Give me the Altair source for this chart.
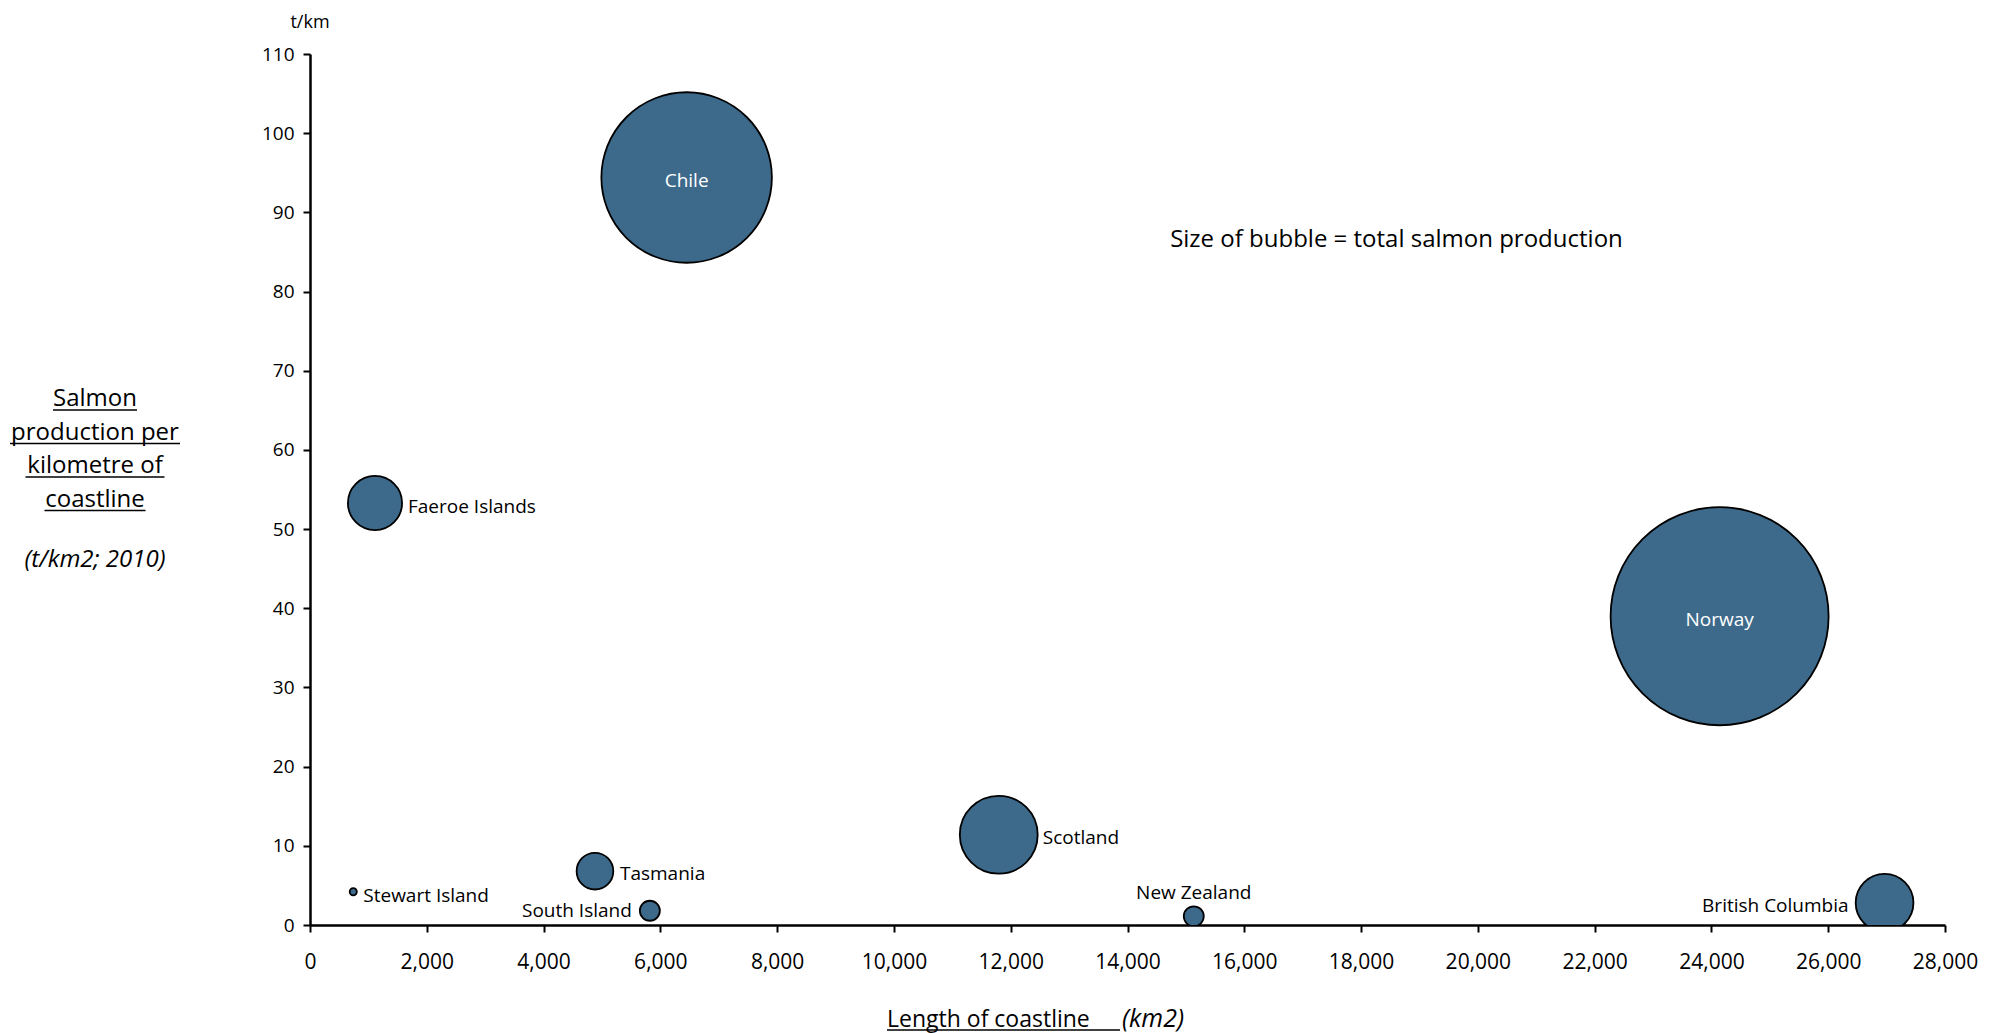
import altair as alt
import pandas as pd

# ---------------- data ----------------
countries = ["Chile", "Norway", "Faeroe Islands", "Stewart Island", "Tasmania",
             "South Island", "Scotland", "New Zealand", "British Columbia"]
coastline_km = [6450, 24140, 1113, 741, 4880, 5820, 11795, 15135, 26965]
production_per_km = [94.4, 39.0, 53.3, 4.2, 6.8, 1.8, 11.4, 1.1, 2.8]
total_production_kt = [575, 940, 58, 1.0, 26.6, 7.9, 120, 7.9, 66]

x_ticks = list(range(0, 28001, 2000))
y_ticks = list(range(0, 111, 10))

annotation_text = ["Size of bubble = total salmon production"]
annotation_x = [18606]
annotation_y = [85.6]

y_title_lines = ["Salmon", "production per", "kilometre of", "coastline"]
y_title_note = "(t/km2; 2010)"
x_title_main = "Length of coastline"
x_title_note = "(km2)"
unit_label = "t/km"

# ---------------- styles / layout ----------------
FONT = "Open Sans"
W, H = 1635, 871
FILL = "#3D6A8A"

label_style = {
    "Chile":            ("center", 0, 3, "white"),
    "Norway":           ("center", 0, 3.5, "white"),
    "Faeroe Islands":   ("left", 33, 4, "black"),
    "Stewart Island":   ("left", 10, 4, "black"),
    "Tasmania":         ("left", 25, 2.5, "black"),
    "South Island":     ("right", -18, 0.5, "black"),
    "Scotland":         ("left", 44, 3.5, "black"),
    "New Zealand":      ("center", 0, -23, "black"),
    "British Columbia": ("right", -36, 3, "black"),
}

df = pd.DataFrame({
    "country": countries,
    "coastline": coastline_km,
    "per_km": production_per_km,
    "production": total_production_kt,
})

xs = alt.Scale(domain=[0, 28000], nice=False, zero=True)
ys = alt.Scale(domain=[0, 110], nice=False, zero=True)

x_axis = alt.Axis(values=x_ticks, format=",.0f", title=None, grid=False,
                  labelFont=FONT, labelFontSize=21, labelColor="black",
                  labelPadding=19, tickSize=7, tickWidth=2, tickColor="black",
                  domainColor="black", domainWidth=2.5, labelFlush=False,
                  labelOverlap=False)
y_axis = alt.Axis(values=y_ticks, format=".0f", title=None, grid=False,
                  labelFont=FONT, labelFontSize=19, labelColor="black",
                  labelPadding=9, tickSize=7, tickWidth=2, tickColor="black",
                  domainColor="black", domainWidth=2.5, labelFlush=False,
                  labelOverlap=False)


def X(field):
    return alt.X(f"{field}:Q", scale=xs, axis=x_axis)


def Y(field):
    return alt.Y(f"{field}:Q", scale=ys, axis=y_axis)


base = alt.Chart(df)

bubbles = base.mark_circle(
    color=FILL, opacity=1, stroke="black", strokeWidth=1.8, clip=True
).encode(
    x=X("coastline"),
    y=Y("per_km"),
    size=alt.Size("production:Q",
                  scale=alt.Scale(domain=[0, 940], range=[0, 47524], zero=True),
                  legend=None),
)

layers = [bubbles]
for name, (align, dx, dy, color) in label_style.items():
    layers.append(
        base.transform_filter(alt.datum.country == name)
        .mark_text(align=align, baseline="middle", dx=dx, dy=dy,
                   font=FONT, fontSize=19, color=color)
        .encode(x=X("coastline"), y=Y("per_km"), text="country:N")
    )

ann_df = pd.DataFrame({"ax": annotation_x, "ay": annotation_y, "t": annotation_text})
layers.append(
    alt.Chart(ann_df).mark_text(align="center", baseline="alphabetic",
                                font=FONT, fontSize=24, color="black")
    .encode(x=X("ax"), y=Y("ay"), text="t:N")
)

one = pd.DataFrame({"k": [0]})

# y-axis title block (left of plot)
y_title_cx = -215
y_baselines = [352, 385.5, 419, 452.5]
y_half_widths = [42, 85, 69.5, 50.5]
for line, yb, hw in zip(y_title_lines, y_baselines, y_half_widths):
    layers.append(
        alt.Chart(one).mark_text(text=line, align="center", baseline="alphabetic",
                                 font=FONT, fontSize=24, color="black")
        .encode(x=alt.value(y_title_cx), y=alt.value(yb))
    )
    layers.append(
        alt.Chart(one).mark_rule(color="black", strokeWidth=1.5)
        .encode(x=alt.value(y_title_cx - hw), x2=alt.value(y_title_cx + hw),
                y=alt.value(yb + 4))
    )
layers.append(
    alt.Chart(one).mark_text(text=y_title_note, align="center", baseline="alphabetic",
                             font=FONT, fontSize=24, fontStyle="italic", color="black")
    .encode(x=alt.value(y_title_cx), y=alt.value(513))
)

# unit label above y axis
layers.append(
    alt.Chart(one).mark_text(text=unit_label, align="center", baseline="alphabetic",
                             font=FONT, fontSize=18, color="black")
    .encode(x=alt.value(0), y=alt.value(-26))
)

# x-axis title
layers.append(
    alt.Chart(one).mark_text(text=x_title_main, align="left", baseline="alphabetic",
                             font=FONT, fontSize=23, color="black")
    .encode(x=alt.value(577), y=alt.value(973))
)
layers.append(
    alt.Chart(one).mark_rule(color="black", strokeWidth=1.5)
    .encode(x=alt.value(577), x2=alt.value(810), y=alt.value(976))
)
layers.append(
    alt.Chart(one).mark_text(text=x_title_note, align="left", baseline="alphabetic",
                             font=FONT, fontSize=25, fontStyle="italic", color="black")
    .encode(x=alt.value(812), y=alt.value(973))
)

chart = alt.layer(*layers).properties(
    width=W, height=H,
    autosize=alt.AutoSizeParams(type="none"),
    padding={"left": 302, "top": 46, "right": 50, "bottom": 108},
    background="white",
).configure_view(strokeWidth=0)

chart.save("out.html", embed_options={"renderer": "svg", "actions": False})
